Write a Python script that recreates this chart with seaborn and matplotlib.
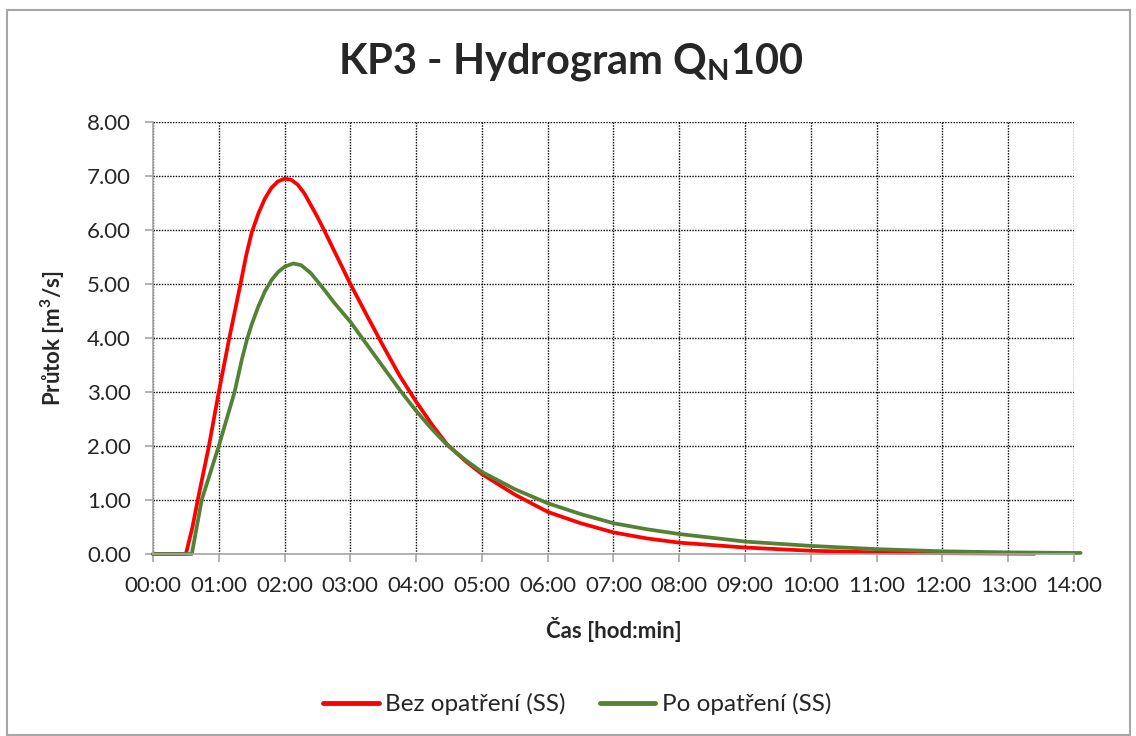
import numpy as np
import pandas as pd
import matplotlib
matplotlib.use("Agg")
import matplotlib.pyplot as plt
import seaborn as sns
from matplotlib.patches import Rectangle

# hydrograph values (time in hours, flow in m3/s)
t_bez = [0.0, 0.5, 0.6, 0.68, 0.85, 1.0, 1.16, 1.33, 1.42, 1.5, 1.6, 1.7, 1.8,
         1.9, 2.0, 2.1, 2.2, 2.3, 2.4, 2.5, 2.6, 2.8, 3.0, 3.25, 3.5, 3.75, 4.0,
         4.25, 4.47, 4.75, 5.0, 5.5, 6.0, 6.5, 7.0, 7.5, 8.0, 9.0, 10.0, 11.0,
         12.0, 13.0, 13.4]
q_bez = [0.0, 0.0, 0.5, 1.0, 2.0, 3.0, 4.0, 5.0, 5.55, 5.95, 6.3, 6.58, 6.78,
         6.9, 6.95, 6.93, 6.84, 6.68, 6.46, 6.24, 6.0, 5.5, 5.0, 4.42, 3.85, 3.3, 2.82,
         2.38, 2.03, 1.72, 1.48, 1.1, 0.78, 0.57, 0.40, 0.29, 0.21, 0.12, 0.06, 0.03,
         0.015, 0.008, 0.005]

t_po = [0.0, 0.59, 0.74, 1.0, 1.24, 1.35, 1.43, 1.5, 1.6, 1.7, 1.8, 1.9, 2.0, 2.13,
        2.25, 2.4, 2.5, 2.6, 2.75, 3.0, 3.25, 3.5, 3.75, 4.0, 4.25, 4.47, 4.75, 5.0,
        5.5, 6.0, 6.5, 7.0, 7.5, 8.0, 9.0, 10.0, 11.0, 12.0, 13.0, 14.0, 14.1]
q_po = [0.0, 0.0, 1.0, 2.0, 3.0, 3.6, 3.98, 4.25, 4.58, 4.86, 5.07, 5.22, 5.32, 5.38,
        5.35, 5.2, 5.05, 4.9, 4.66, 4.3, 3.88, 3.46, 3.04, 2.65, 2.3, 2.02, 1.74, 1.52,
        1.2, 0.94, 0.74, 0.57, 0.46, 0.37, 0.23, 0.15, 0.09, 0.05, 0.03, 0.02, 0.02]

serie_bez = "Bez opatření (SS)"
serie_po = "Po opatření (SS)"
hodiny = list(range(0, 15))
y_ticks = [0, 1, 2, 3, 4, 5, 6, 7, 8]

df = pd.concat([
    pd.DataFrame({"t": t_bez, "q": q_bez, "serie": serie_bez}),
    pd.DataFrame({"t": t_po, "q": q_po, "serie": serie_po}),
])

sns.set_style("white")
plt.rcParams["font.family"] = ["Lato", "DejaVu Sans"]
plt.rcParams["mathtext.fontset"] = "custom"
plt.rcParams["mathtext.rm"] = "Lato:bold"
plt.rcParams["mathtext.bf"] = "Lato:bold"

fig = plt.figure(figsize=(11.36, 7.36), dpi=100)
ax = fig.add_axes([153 / 1136, 1 - 554 / 736, (1074 - 153) / 1136, (554 - 122) / 736])

sns.lineplot(data=df, x="t", y="q", hue="serie", estimator=None, sort=False,
             palette={serie_bez: "#FF0000", serie_po: "#548235"},
             linewidth=2.7, ax=ax, legend=True)
for ln in ax.lines:
    ln.set_clip_on(False)
    ln.set_solid_joinstyle("round")

ax.set_xlim(0, 14)
ax.set_ylim(0, 8)
ax.set_xticks(hodiny)
ax.set_xticklabels([f"{h:02d}:00" for h in hodiny])
ax.set_yticks(y_ticks)
ax.set_yticklabels([f"{v:.2f}" for v in y_ticks])
ax.grid(True, color="black", linestyle=(0, (1, 1)), linewidth=1.0)
ax.set_axisbelow(True)

for s in ["top", "right"]:
    ax.spines[s].set_visible(False)
for s in ["left", "bottom"]:
    ax.spines[s].set_color("#A6A6A6")
    ax.spines[s].set_linewidth(1.2)
ax.tick_params(axis="both", which="major", length=6, width=1.2, color="#A6A6A6",
               labelsize=16, pad=10, direction="out", bottom=True, left=True)

ax.set_xlabel("Čas [hod:min]", fontsize=16, fontweight="bold", labelpad=15)
ax.set_ylabel("Průtok [m$^3$/s]", fontsize=16, fontweight="bold", labelpad=14)

fig.text(571 / 1136, 1 - 62 / 736, "KP3 - Hydrogram Q$_\\mathregular{N}$100",
         fontsize=30, fontweight="bold", ha="center", va="center")

leg = ax.legend(loc="center", bbox_to_anchor=(577 / 1136, 1 - 704 / 736),
                bbox_transform=fig.transFigure, ncol=2, frameon=False, fontsize=17.5,
                handlelength=2.3, handletextpad=0.25, columnspacing=1.4, title=None)
for h in leg.get_lines():
    h.set_linewidth(3.5)

fig.patches.append(Rectangle((7 / 1136, 0.002), (1130 - 7) / 1136, 1 - 10 / 736 - 0.002,
                             transform=fig.transFigure, fill=False,
                             edgecolor="#A6A6A6", linewidth=1.5))

fig.savefig("out.png", dpi=100)
